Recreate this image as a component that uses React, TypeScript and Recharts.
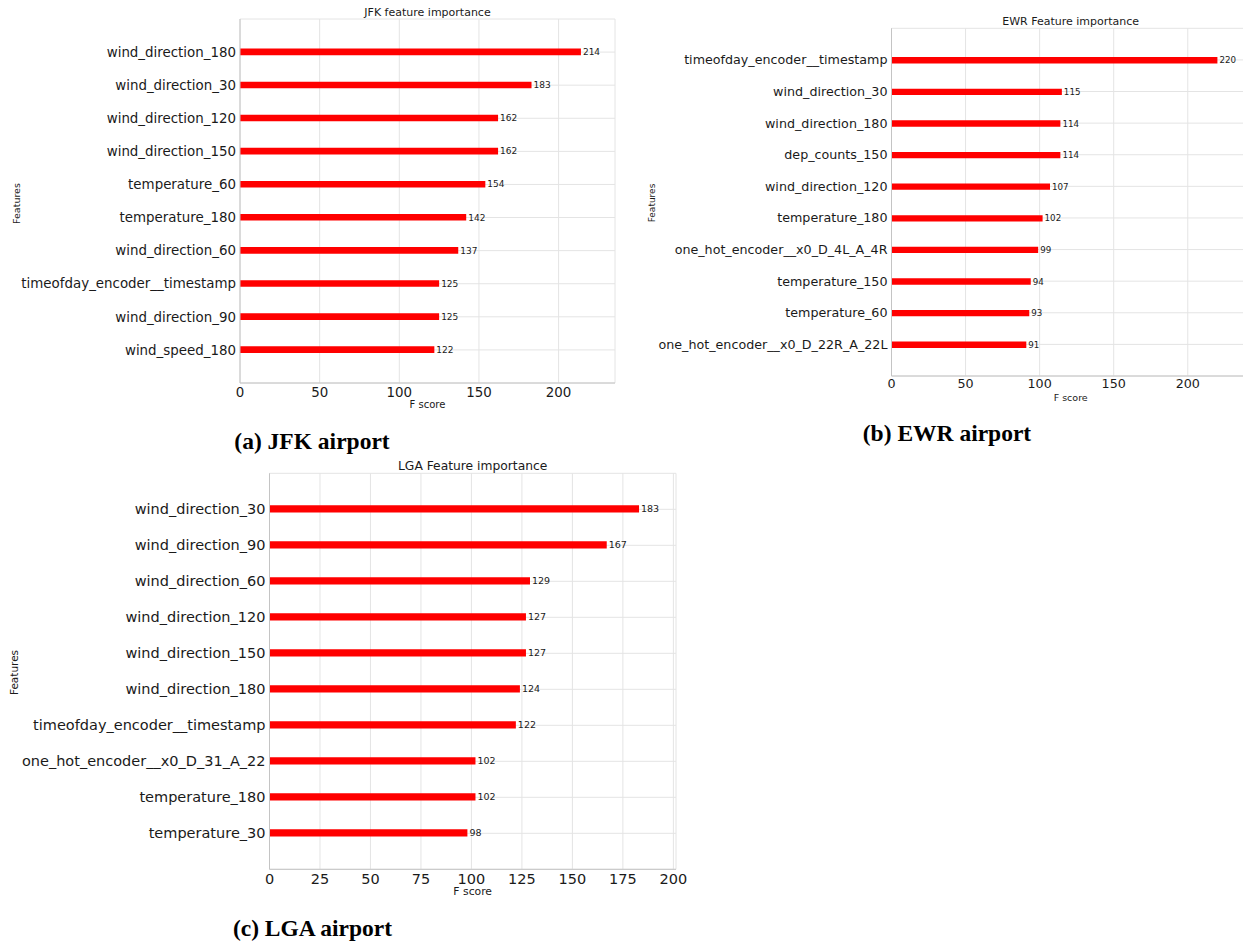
import React from 'react';
import { BarChart, Bar, XAxis, YAxis, CartesianGrid, LabelList } from 'recharts';

// ---------------- data ----------------
const jfkFeatures = [
  'wind_direction_180',
  'wind_direction_30',
  'wind_direction_120',
  'wind_direction_150',
  'temperature_60',
  'temperature_180',
  'wind_direction_60',
  'timeofday_encoder__timestamp',
  'wind_direction_90',
  'wind_speed_180',
];
const jfkScores = [214, 183, 162, 162, 154, 142, 137, 125, 125, 122];

const ewrFeatures = [
  'timeofday_encoder__timestamp',
  'wind_direction_30',
  'wind_direction_180',
  'dep_counts_150',
  'wind_direction_120',
  'temperature_180',
  'one_hot_encoder__x0_D_4L_A_4R',
  'temperature_150',
  'temperature_60',
  'one_hot_encoder__x0_D_22R_A_22L',
];
const ewrScores = [220, 115, 114, 114, 107, 102, 99, 94, 93, 91];

const lgaFeatures = [
  'wind_direction_30',
  'wind_direction_90',
  'wind_direction_60',
  'wind_direction_120',
  'wind_direction_150',
  'wind_direction_180',
  'timeofday_encoder__timestamp',
  'one_hot_encoder__x0_D_31_A_22',
  'temperature_180',
  'temperature_30',
];
const lgaScores = [183, 167, 129, 127, 127, 124, 122, 102, 102, 98];

const ticks50 = [0, 50, 100, 150, 200];
const ticks25 = [0, 25, 50, 75, 100, 125, 150, 175, 200];

const titles = ['JFK feature importance', 'EWR Feature importance', 'LGA Feature importance'];
const captions = ['(a) JFK airport', '(b) EWR airport', '(c) LGA airport'];
const xLabel = 'F score';
const yLabel = 'Features';

// ---------------- styles ----------------
const SANS = '"DejaVu Sans", Verdana, sans-serif';
const SERIF = '"Liberation Serif", "Times New Roman", serif';
const GRID = '#e4e4e4';
const SPINE = '#c4c4c4';
const TEXT = '#1a1a1a';
const BAR = '#ff0000';
const X_AXIS_H = 30;

type Box = {
  left: number; top: number; width: number; height: number;
  plotLeft: number; plotRight: number; plotTop: number; plotBottom: number;
};

type ChartProps = {
  features: string[];
  scores: number[];
  ticks: number[];
  box: Box;
  tickFont: number;
  xTickFont: number;
  valueFont: number;
  xTickGap: number;
};

function ImportanceChart({ features, scores, ticks, box, tickFont, xTickFont, valueFont, xTickGap }: ChartProps) {
  const data = features.map((f, i) => ({ feature: f, score: scores[i] }));
  const xMax = Math.max(...scores) * 1.1;
  const plotH = box.plotBottom - box.plotTop;
  const step = plotH / (data.length + 1);
  const pad = step / 2;
  const margin = {
    top: box.plotTop - box.top,
    left: 0,
    right: box.left + box.width - box.plotRight,
    bottom: box.top + box.height - box.plotBottom - X_AXIS_H,
  };
  return (
    <div style={{ position: 'absolute', left: box.left, top: box.top, width: box.width, height: box.height }}>
      <BarChart
        width={box.width}
        height={box.height}
        data={data}
        layout="vertical"
        margin={margin}
        barCategoryGap={0}
      >
        <CartesianGrid stroke={GRID} strokeWidth={1} />
        <XAxis
          type="number"
          dataKey="score"
          domain={[0, xMax]}
          allowDataOverflow
          ticks={ticks}
          height={X_AXIS_H}
          tickLine={false}
          tickSize={xTickGap}
          tickMargin={0}
          axisLine={{ stroke: SPINE }}
          tick={{ fill: TEXT, fontSize: xTickFont, fontFamily: SANS }}
        />
        <XAxis
          xAxisId="top"
          orientation="top"
          type="number"
          domain={[0, xMax]}
          allowDataOverflow
          height={0}
          tick={false}
          tickLine={false}
          axisLine={{ stroke: SPINE }}
        />
        <YAxis
          type="category"
          dataKey="feature"
          width={box.plotLeft - box.left}
          padding={{ top: pad, bottom: pad }}
          interval={0}
          tickLine={false}
          tickSize={2}
          tickMargin={2}
          axisLine={{ stroke: SPINE }}
          tick={{ fill: TEXT, fontSize: tickFont, fontFamily: SANS }}
        />
        <YAxis
          yAxisId="right"
          orientation="right"
          type="category"
          dataKey="feature"
          width={0}
          tick={false}
          tickLine={false}
          axisLine={{ stroke: SPINE }}
        />
        <Bar dataKey="score" fill={BAR} barSize={step * 0.2} isAnimationActive={false}>
          <LabelList
            dataKey="score"
            position="right"
            offset={2}
            fill={TEXT}
            fontSize={valueFont}
            fontFamily={SANS}
          />
        </Bar>
      </BarChart>
    </div>
  );
}

function Txt({ x, y, text, size, font, bold, rotate }: {
  x: number; y: number; text: string; size: number; font: string; bold?: boolean; rotate?: boolean;
}) {
  return (
    <div
      style={{
        position: 'absolute',
        left: x - 200,
        top: y - size,
        width: 400,
        height: size * 2,
        lineHeight: `${size * 2}px`,
        textAlign: 'center',
        fontFamily: font,
        fontSize: size,
        fontWeight: bold ? 'bold' : 'normal',
        color: bold ? '#000' : TEXT,
        whiteSpace: 'nowrap',
        transform: rotate ? 'rotate(-90deg)' : undefined,
        pointerEvents: 'none',
      }}
    >
      {text}
    </div>
  );
}

const jfkBox: Box = { left: 0, top: 0, width: 625, height: 425, plotLeft: 240, plotRight: 615, plotTop: 19, plotBottom: 383 };
const ewrBox: Box = { left: 630, top: 0, width: 630, height: 425, plotLeft: 891.5, plotRight: 1250, plotTop: 28.3, plotBottom: 376 };
const lgaBox: Box = { left: 0, top: 455, width: 690, height: 470, plotLeft: 269.5, plotRight: 676, plotTop: 473.3, plotBottom: 869.3 };

export default function App() {
  return (
    <div style={{ position: 'absolute', left: 0, top: 0, width: 1243, height: 943, overflow: 'hidden', background: '#fff' }}>
      <ImportanceChart features={jfkFeatures} scores={jfkScores} ticks={ticks50} box={jfkBox}
        tickFont={13.4} xTickFont={13.4} valueFont={9} xTickGap={4} />
      <ImportanceChart features={ewrFeatures} scores={ewrScores} ticks={ticks50} box={ewrBox}
        tickFont={12.7} xTickFont={12.7} valueFont={8.7} xTickGap={3} />
      <ImportanceChart features={lgaFeatures} scores={lgaScores} ticks={ticks25} box={lgaBox}
        tickFont={14.5} xTickFont={14.5} valueFont={9.5} xTickGap={4} />

      <Txt x={427.5} y={13.3} text={titles[0]} size={11} font={SANS} />
      <Txt x={427.5} y={405} text={xLabel} size={10} font={SANS} />
      <Txt x={16} y={203} text={yLabel} size={9.5} font={SANS} rotate />
      <Txt x={312} y={441.5} text={captions[0]} size={23.5} font={SERIF} bold />

      <Txt x={1070.7} y={21.7} text={titles[1]} size={11} font={SANS} />
      <Txt x={1070.7} y={397} text={xLabel} size={9.5} font={SANS} />
      <Txt x={651.5} y={203} text={yLabel} size={9} font={SANS} rotate />
      <Txt x={947} y={433} text={captions[1]} size={23.5} font={SERIF} bold />

      <Txt x={472.7} y={466.7} text={titles[2]} size={12.3} font={SANS} />
      <Txt x={472.7} y={892} text={xLabel} size={10.8} font={SANS} />
      <Txt x={13.5} y={672} text={yLabel} size={10.5} font={SANS} rotate />
      <Txt x={312.5} y={928} text={captions[2]} size={23.5} font={SERIF} bold />
    </div>
  );
}
